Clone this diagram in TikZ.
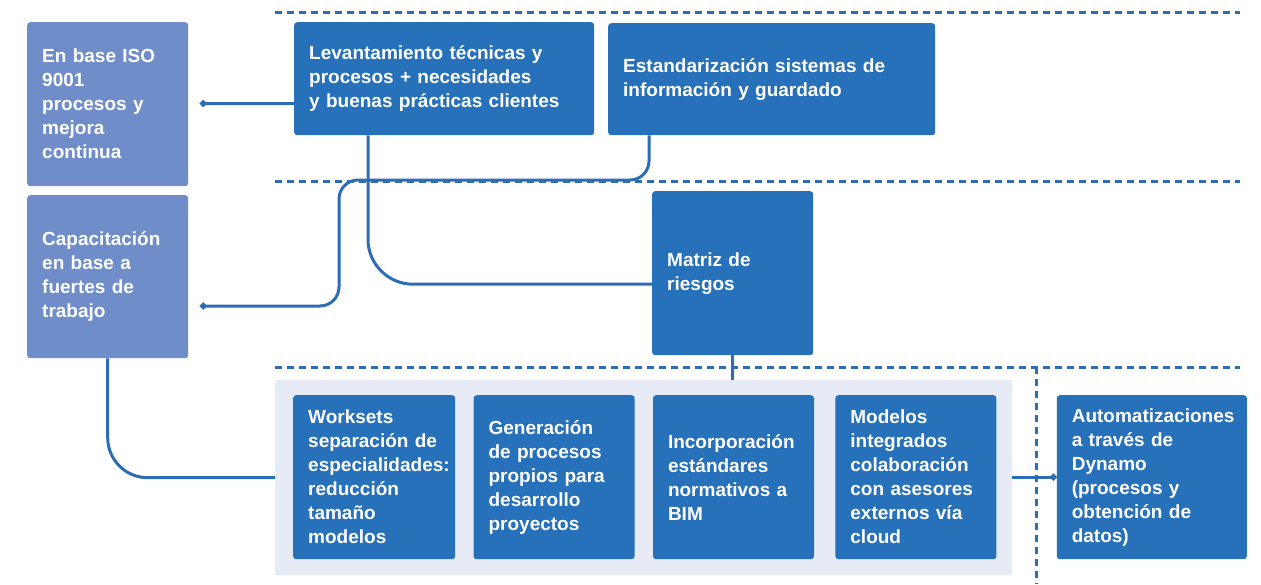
\documentclass[tikz,border=0pt]{standalone}
\usepackage{fontspec}
\setmainfont{Liberation Sans}
\usetikzlibrary{arrows.meta, positioning}
\definecolor{azul}{HTML}{2770BA}
\definecolor{azulclaro}{HTML}{6F8DC9}
\definecolor{fondo}{HTML}{E6EBF5}
\definecolor{trazo}{HTML}{2C6DB6}
\tikzstyle{bloque} = [rectangle, rounded corners=3pt, fill=azul, text=white, font=\bfseries\fontsize{19}{24}\selectfont, align=left, inner xsep=15pt, inner ysep=0pt, anchor=north west]
\tikzstyle{lateral} = [bloque, fill=azulclaro]
\tikzstyle{linea} = [line width=3pt, draw=trazo]
\tikzstyle{arrow} = [linea, -{Circle[length=6.5pt]}]
\tikzstyle{separador} = [line width=3pt, draw=trazo, dash pattern=on 7pt off 5pt]

\begin{document}
\begin{tikzpicture}[x=1pt, y=-1pt, node distance=18pt]
\useasboundingbox (0,0) rectangle (1261,584);

% separadores
\draw [separador] (275,12) -- (1240,12);
\draw [separador] (275,181) -- (1240,181);
\draw [separador] (275,367) -- (1240,367);
\draw [separador] (1036,367) -- (1036,584);

\node (iso) [lateral, text width=131pt, minimum height=164pt] at (27,22) {En base ISO\\9001\\procesos y\\mejora\\continua};
\node (cap) [lateral, text width=131pt, minimum height=163pt] at (27,195) {Capacitación\\en base a\\fuertes de\\trabajo};
\node (lev) [bloque, text width=270pt, minimum height=113pt] at (294,22) {Levantamiento técnicas y\\procesos + necesidades\\y buenas prácticas clientes};
\node (est) [bloque, text width=297pt, minimum height=112pt] at (608,23) {Estandarización sistemas de\\información y guardado};
\node (mat) [bloque, text width=131pt, minimum height=164pt] at (652,191) {Matriz de\\riesgos};

\node (grupo) [rectangle, rounded corners=2pt, fill=fondo, minimum width=737pt, minimum height=195pt, anchor=north west, inner sep=0pt] at (275,380) {};
\node (wor) [bloque, text width=132pt, minimum height=164pt] at (293,395) {Worksets\\separación de\\especialidades:\\reducción\\tamaño\\modelos};
\node (gen) [bloque, text width=131pt, minimum height=164pt, right=of wor] {Generación\\de procesos\\propios para\\desarrollo\\proyectos};
\node (inc) [bloque, text width=131pt, minimum height=164pt, right=of gen] {Incorporación\\estándares\\normativos a\\BIM};
\node (mod) [bloque, text width=131pt, minimum height=164pt, right=21pt of inc] {Modelos\\integrados\\colaboración\\con asesores\\externos vía\\cloud};
\node (aut) [bloque, text width=160pt, minimum height=164pt, right=60pt of mod] {Automatizaciones\\a través de\\Dynamo\\(procesos y\\obtención de\\datos)};

\coordinate (isoend) at (200,103.5);
\coordinate (capend) at (200,306);
\coordinate (codo) at (339,180);

\draw [arrow] ([yshift=-25pt]lev.west) -- (isoend);
\draw [arrow, rounded corners=19pt] ([xshift=41pt]est.south west) |- (codo) |- (capend);
\draw [linea, rounded corners=45pt] ([xshift=74pt]lev.south west) |- ([yshift=-11pt]mat.west);
\draw [linea, rounded corners=40pt] (cap.south) |- (grupo.west);
\draw [linea] (mat.south) -- (mat.south |- grupo.north);
\draw [arrow] (mod.east -| grupo.east) -- (aut.west);

\end{tikzpicture}
\end{document}
